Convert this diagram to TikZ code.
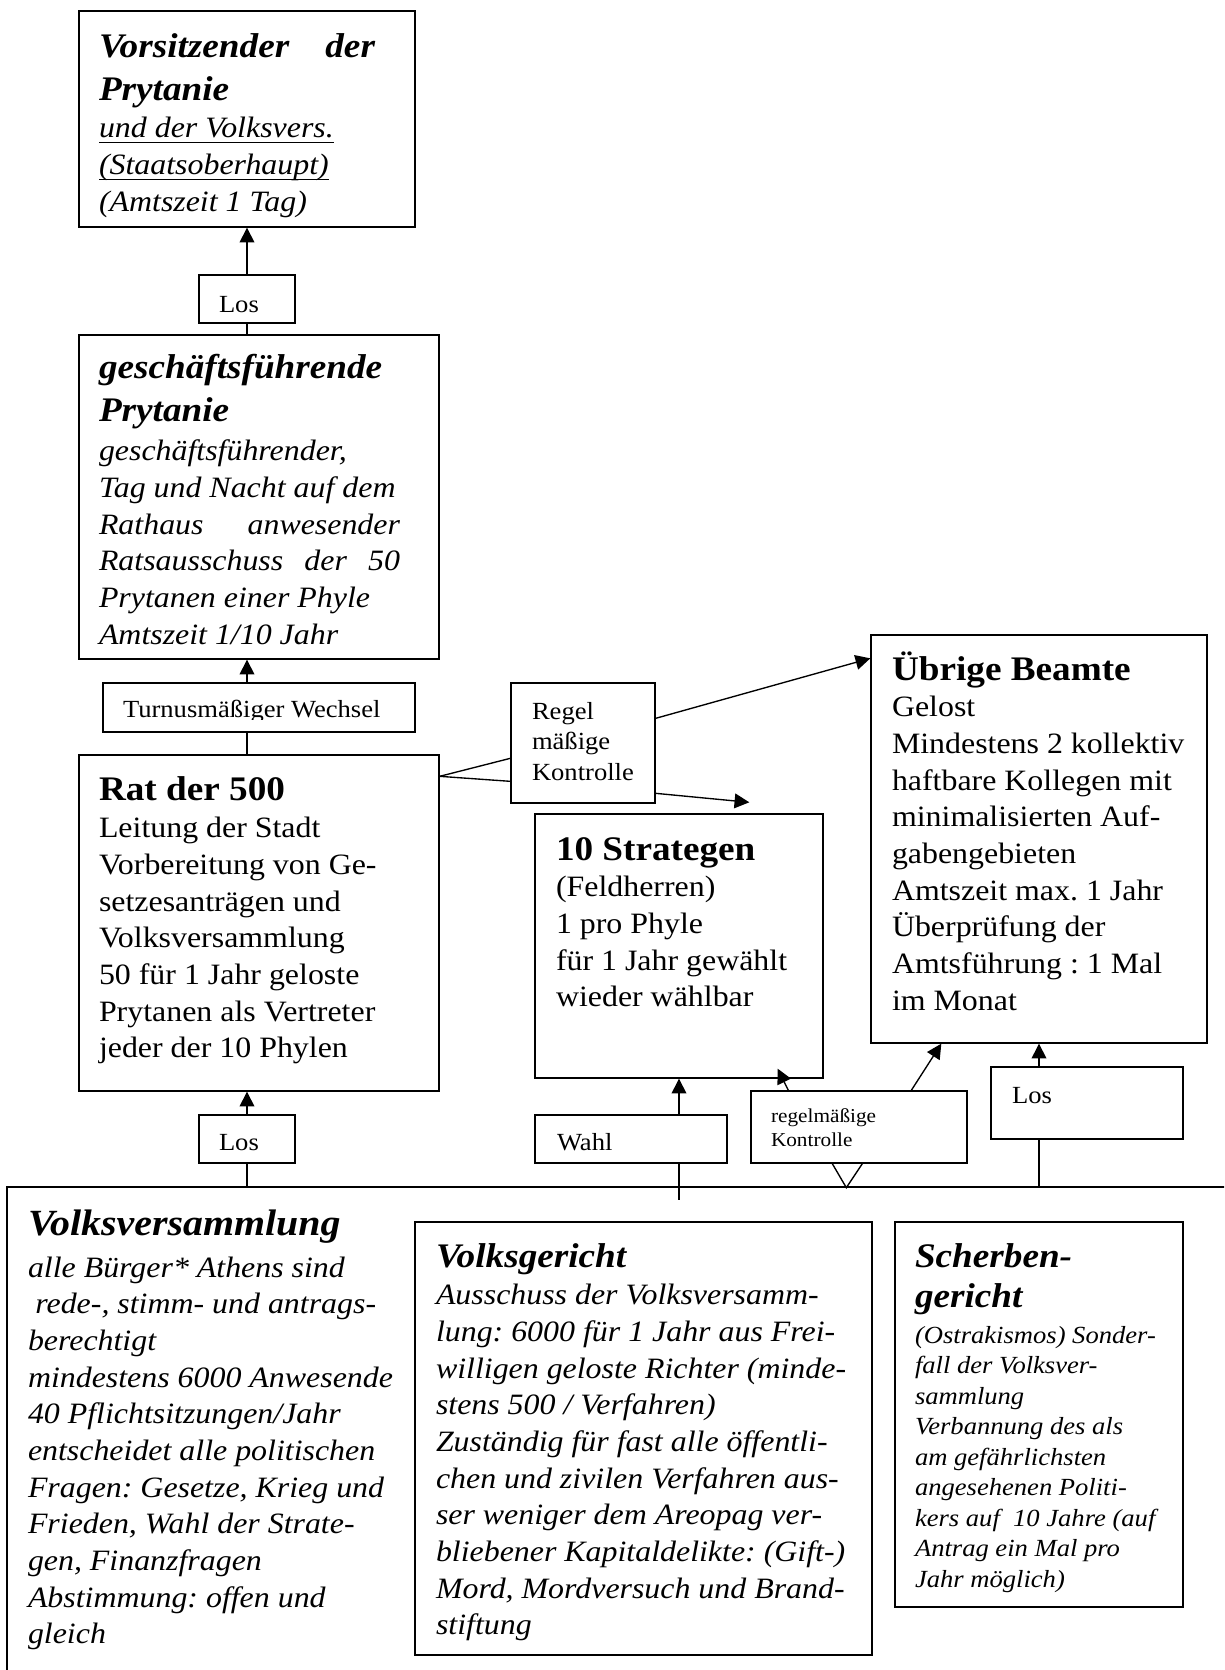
\documentclass[tikz,border=0pt]{standalone}
\usepackage{fontspec}
\setmainfont{Liberation Serif}[FakeStretch=1.08]
\usepackage{tikz}
\usetikzlibrary{calc,fit,arrows.meta}
\frenchspacing

\newlength{\px}
\setlength{\px}{0.4063pt}
\newsavebox{\ubox}
\newcommand{\unterstr}[1]{\leavevmode\sbox{\ubox}{#1}\rlap{\rule[-2.2pt]{\wd\ubox}{0.5pt}}\usebox{\ubox}}
\newcommand{\titel}[1]{{\fontsize{14}{17.5}\selectfont\bfseries #1\par}}
\newcommand{\titelk}[1]{{\fontsize{14}{17.5}\selectfont\bfseries\itshape #1\par}}
\newcommand{\grund}{\fontsize{12}{14.9}\selectfont}
\newcommand{\klein}{\fontsize{10}{12.4}\selectfont}
\newcommand{\winzig}{\fontsize{8}{9.95}\selectfont}

\tikzset{
    kasten/.style={rectangle, draw=black, inner sep=0pt},
    txt/.style={anchor=base west, inner sep=0pt, outer sep=0pt},
    pfeil/.style={-{Triangle[length=6pt,width=6pt]}},
}

\begin{document}
\begin{tikzpicture}
        [x=0.4063pt, y=-0.4063pt, line width=0.55pt]

        \useasboundingbox (0,0) rectangle (1224,1670);
        \clip (0,0) rectangle (1224,1670);

        \node[kasten, fit={(79,11) (415,227)}] (vors) {};
        \node[txt] (vors-text) at (99,57) {\parbox[t]{300\px}{%
            \titelk{\makebox[276\px][s]{Vorsitzender der}\\Prytanie}\vspace{0.5pt}%
            \grund\itshape \unterstr{und der Volksvers.}\\\unterstr{(Staatsoberhaupt)}\\(Amtszeit 1 Tag)}};

        \node[kasten, fit={(199,275) (295,323)}] (los1) {};
        \node[txt] (los1-text) at (219,312) {\klein Los};

        \node[kasten, fit={(79,335) (439,659)}] (pryt) {};
        \node[txt] (pryt-text) at (99,378) {\parbox[t]{320\px}{%
            \titelk{geschäftsführende\\Prytanie}\vspace{1.3pt}%
            \grund\itshape geschäftsführender,\\Tag und Nacht auf dem\\%
            \makebox[301\px][s]{Rathaus anwesender}\\\makebox[301\px][s]{Ratsausschuss der 50}\\%
            Prytanen einer Phyle\\Amtszeit 1/10 Jahr}};

        \node[kasten, fit={(103,683) (415,732)}] (turnus) {};
        \begin{scope}
            \clip (turnus.north west) rectangle ($(turnus.south east)+(0,-13)$);
            \node[txt] (turnus-text) at (123,717) {\klein Turnusmäßiger Wechsel};
        \end{scope}

        \node[kasten, fit={(79,755) (439,1091)}] (rat) {};
        \node[txt] (rat-text) at (99,800) {\parbox[t]{330\px}{%
            \titel{Rat der 500}\vspace{0.5pt}%
            \grund Leitung der Stadt\\Vorbereitung von Ge-\\setzesanträgen und\\Volksversammlung\\%
            50 für 1 Jahr geloste\\Prytanen als Vertreter\\jeder der 10 Phylen}};

        \node[kasten, fit={(199,1115) (295,1163)}] (los2) {};
        \node[txt] (los2-text) at (219,1150) {\klein Los};

        \node[kasten, fit={(511,683) (655,803)}] (regel) {};
        \node[txt] (regel-text) at (532,719) {\parbox[t]{120\px}{\klein Regel\\mäßige\\Kontrolle}};

        \node[kasten, fit={(871,635) (1207,1043)}] (ueb) {};
        \node[txt] (ueb-text) at (892,680) {\parbox[t]{310\px}{%
            \titel{Übrige Beamte}%
            \grund Gelost\\Mindestens 2 kollektiv\\haftbare Kollegen mit\\minimalisierten Auf-\\gabengebieten\\%
            Amtszeit max. 1 Jahr\\Überprüfung der\\Amtsführung : 1 Mal\\im Monat}};

        \node[kasten, fit={(535,814) (823,1078)}] (strat) {};
        \node[txt] (strat-text) at (556,860) {\parbox[t]{255\px}{%
            \titel{10 Strategen}%
            \grund (Feldherren)\\1 pro Phyle\\für 1 Jahr gewählt\\wieder wählbar}};

        \node[kasten, fit={(535,1115) (727,1163)}] (wahl) {};
        \node[txt] (wahl-text) at (557,1150) {\klein Wahl};

        \node[kasten, fit={(751,1091) (967,1163)}] (kontr) {};
        \node[txt] (kontr-text) at (771,1122) {\parbox[t]{180\px}{\winzig regelmäßige\\Kontrolle}};

        \node[kasten, fit={(991,1067) (1183,1139)}] (los3) {};
        \node[txt] (los3-text) at (1012,1103) {\klein Los};

        \node[kasten, fit={(7,1187) (1300,1750)}] (vv) {};
        \node[txt] (vv-text) at (28,1235) {\parbox[t]{385\px}{%
            {\fontsize{15}{18.8}\selectfont\bfseries\itshape Volksversammlung\par}\vspace{2.2pt}%
            \grund\itshape alle Bürger* Athens sind\\\hspace*{0.25em}rede-, stimm- und antrags-\\berechtigt\\%
            mindestens 6000 Anwesende\\40 Pflichtsitzungen/Jahr\\entscheidet alle politischen\\%
            Fragen: Gesetze, Krieg und\\Frieden, Wahl der Strate-\\gen, Finanzfragen\\%
            Abstimmung: offen und\\gleich}};

        \node[kasten, fit={(415,1222) (872,1655)}] (vg) {};
        \node[txt] (vg-text) at (436,1267) {\parbox[t]{430\px}{%
            \titelk{Volksgericht}\vspace{0.5pt}%
            \grund\itshape Ausschuss der Volksversamm-\\lung: 6000 für 1 Jahr aus Frei-\\%
            willigen geloste Richter (minde-\\stens 500 / Verfahren)\\%
            Zuständig für fast alle öffentli-\\chen und zivilen Verfahren aus-\\%
            ser weniger dem Areopag ver-\\bliebener Kapitaldelikte: (Gift-)\\%
            Mord, Mordversuch und Brand-\\stiftung}};

        \node[kasten, fit={(895,1222) (1183,1607)}] (scherb) {};
        \node[txt] (scherb-text) at (915,1267) {\parbox[t]{260\px}{%
            {\fontsize{14}{16.3}\selectfont\bfseries\itshape Scherben-\\gericht\par}\vspace{2.2pt}%
            \klein\itshape (Ostrakismos) Sonder-\\fall der Volksver-\\sammlung\\%
            Verbannung des als\\am gefährlichsten\\angesehenen Politi-\\%
            kers auf\ \ 10 Jahre (auf\\Antrag ein Mal pro\\Jahr möglich)}};

        \draw[pfeil] (los1.north) -- (vors.south);
        \draw (los1.south) -- (los1.south |- pryt.north);
        \draw[pfeil] (turnus.north -| los1) -- (pryt.south -| los1);
        \draw (turnus.south -| los1) -- (rat.north -| los1);
        \draw[pfeil] (los2.north) -- (rat.south -| los2);
        \draw (los2.south) -- (los2.south |- vv.north);

        \coordinate (ratR) at ($(rat.north east)+(0,22)$);
        \draw (ratR) -- ($(regel.north west)+(0,76)$);
        \draw (ratR) -- ($(regel.north west)+(0,99)$);
        \draw[pfeil] ($(regel.north east)+(0,36)$) -- ($(ueb.north west)+(0,24)$);
        \coordinate (stratZiel) at ($(strat.north west)+(215,-11)$);
        \draw[pfeil] ($(regel.north east)+(0,111)$) -- (stratZiel);

        \draw[pfeil] (wahl.north -| strat.south) -- (strat.south);
        \coordinate (wahlEnde) at ($(strat.south)+(0,121)$);
        \draw (wahl.south -| strat.south) -- (wahlEnde);

        \draw[pfeil] ($(kontr.north west)+(38,0)$) -- ($(strat.south east)+(-46,-10)$);
        \draw[pfeil] ($(kontr.north west)+(161,0)$) -- ($(ueb.south west)+(71,0)$);
        \draw ($(kontr.south west)+(82,0)$) -- ($(kontr.south west)+(96,24)$) -- ($(kontr.south west)+(112,0)$);

        \draw[pfeil] (los3.north -| ueb.south) -- (ueb.south);
        \draw (los3.south -| ueb.south) -- (ueb.south |- vv.north);

    \end{tikzpicture}
\end{document}
